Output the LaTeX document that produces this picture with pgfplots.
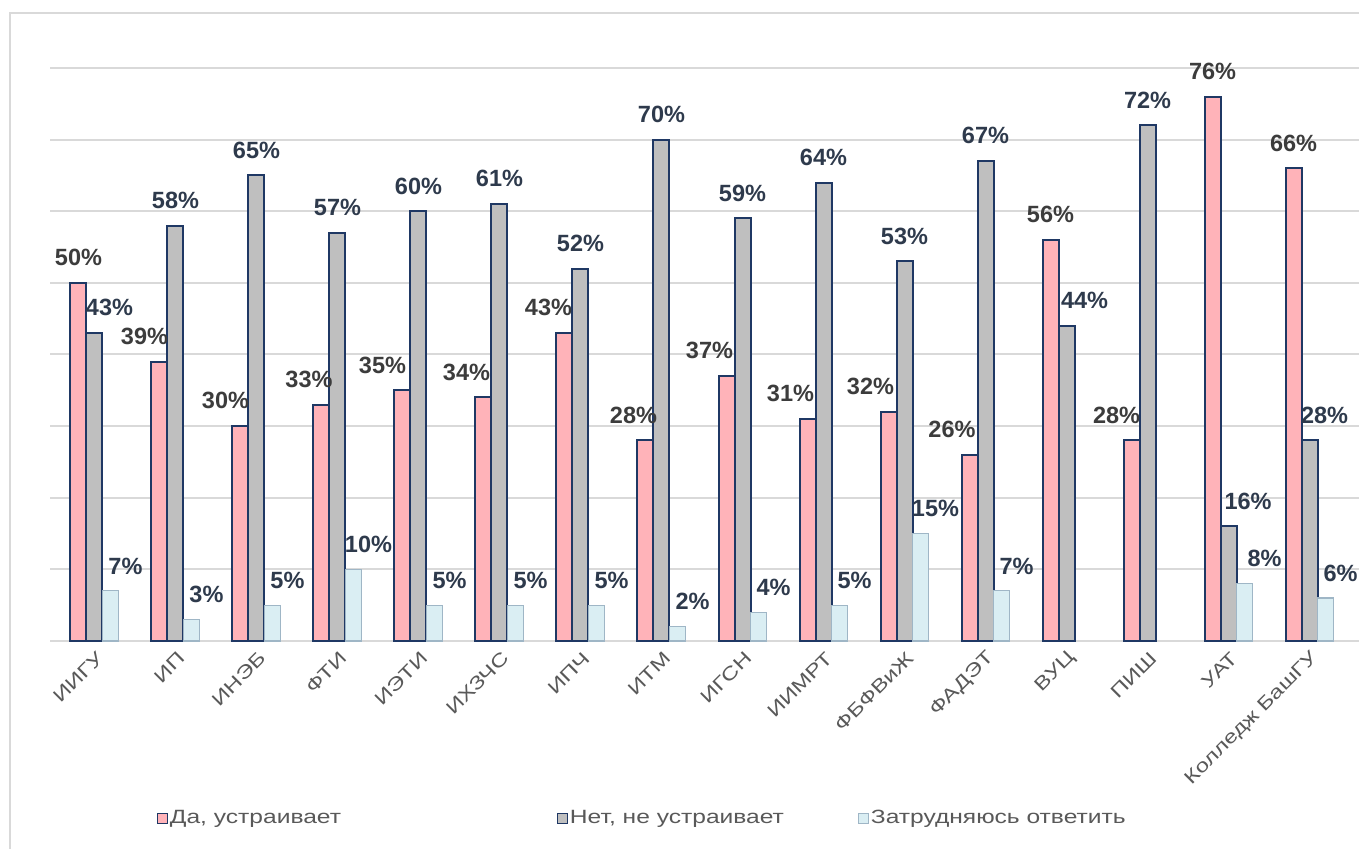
\documentclass[border=0pt]{standalone}
\usepackage{fontspec}
\setmainfont{Liberation Sans}
\newfontfamily\wide[FakeStretch=1.28]{Liberation Sans}
\usepackage{pgfplots}
\pgfplotsset{compat=1.18}
\usepackage{pgfplotstable}
\definecolor{cpink}{HTML}{FFB3B9}
\definecolor{cgray}{HTML}{BFBFBF}
\definecolor{cblue}{HTML}{DAEEF3}
\definecolor{navy}{HTML}{1F3864}
\definecolor{bedge}{HTML}{9FB6C6}
\definecolor{gridc}{HTML}{D9D9D9}
\definecolor{txt}{HTML}{595959}
\definecolor{lblA}{HTML}{3C3C3C}
\definecolor{lblB}{HTML}{2E3A4C}

\pgfplotstableread{
x y dx
0 50 0
1 39 -7.5
2 30 -7.5
3 33 -6.25
4 35 -10
5 34 -8.5
6 43 -8
7 28 -6
8 37 -8.5
9 31 -8.5
10 32 -9
11 26 -8.75
12 56 0
13 28 -7.5
14 76 0
15 66 0
}\tabA
\pgfplotstableread{
x y dx
0 43 7.5
1 58 0
2 65 0
3 57 0
4 60 0
5 61 0
6 52 0
7 70 0
8 59 0
9 64 0
10 53 0
11 67 0
12 44 9
13 72 0
14 16 9.75
15 28 7.5
}\tabB
\pgfplotstableread{
x y dx
0 7 7.5
1 3 7.5
2 5 7.5
3 10 7.5
4 5 7.5
5 5 7.5
6 5 7.5
7 2 7.5
8 4 7.5
9 5 7.5
10 15 7.5
11 7 7.5
14 8 10
15 6 7.5
}\tabC

\pgfplotsset{
  lbl/.style={
    visualization depends on={\thisrow{dx} \as \dx},
    nodes near coords={\pgfmathprintnumber[fixed,precision=0,assume math mode=true]{\pgfplotspointmeta}\%},
    every node near coord/.append style={anchor=south, xshift=\dx pt, yshift=8pt, inner sep=0pt,
      font=\bfseries\fontsize{11.75}{13}\selectfont, text=#1},
  }
}

\begin{document}
\begin{tikzpicture}
\path[use as bounding box] (0,0) rectangle (679.5pt,424.5pt);
\fill[white] (0,0) rectangle (679.5pt,424.5pt);
\draw[gridc, line width=1pt] (5pt,0) -- (5pt,418pt) -- (679.5pt,418pt);
\begin{axis}[
  at={(25pt,104pt)}, anchor=south west,
  scale only axis, width=654.5pt, height=286.5pt,
  xmin=-0.549, xmax=15.611, ymin=0, ymax=80,
  ybar=0pt, bar width=8pt,
  axis line style={draw=none},
  ytick={0,10,...,80}, yticklabels={},
  ymajorgrids, grid style={gridc, line width=1pt},
  major tick length=0pt,
  xtick={0,...,15},
  xticklabels={ИИГУ,ИП,ИНЭБ,ФТИ,ИЭТИ,ИХЗЧС,ИПЧ,ИТМ,ИГСН,ИИМРТ,ФБФВиЖ,ФАДЭТ,ВУЦ,ПИШ,УАТ,Колледж БашГУ},
  xticklabel style={xshift=3pt, yshift=-7pt, rotate=45, anchor=east, inner sep=0pt, font=\wide\fontsize{9.3}{10}\selectfont, text=txt},
  clip=false,
  legend columns=3,
  legend style={at={(0.0817,-0.309)}, anchor=west, draw=none, fill=none, inner sep=0pt, outer sep=0pt, column sep=0pt,
    nodes={inner sep=0pt, font=\wide\fontsize{9.6}{11}\selectfont, text=txt},
    /tikz/every odd column/.append style={column sep=1pt}},
  legend image code/.code={\draw[#1, line width=0.5pt] (0pt,-2.5pt) rectangle (5pt,2.5pt);},
]
\addplot[fill=cpink, draw=navy, line width=1pt, lbl=lblA] table[x=x,y=y]{\tabA};
\addlegendentry{\makebox[193.5pt][l]{Да, устраивает}}
\addplot[fill=cgray, draw=navy, line width=1pt, lbl=lblB] table[x=x,y=y]{\tabB};
\addlegendentry{\makebox[144pt][l]{Нет, не устраивает}}
\addplot[fill=cblue, draw=bedge, line width=0.6pt, lbl=lblB] table[x=x,y=y]{\tabC};
\addlegendentry{Затрудняюсь ответить}
\end{axis}
\end{tikzpicture}
\end{document}
